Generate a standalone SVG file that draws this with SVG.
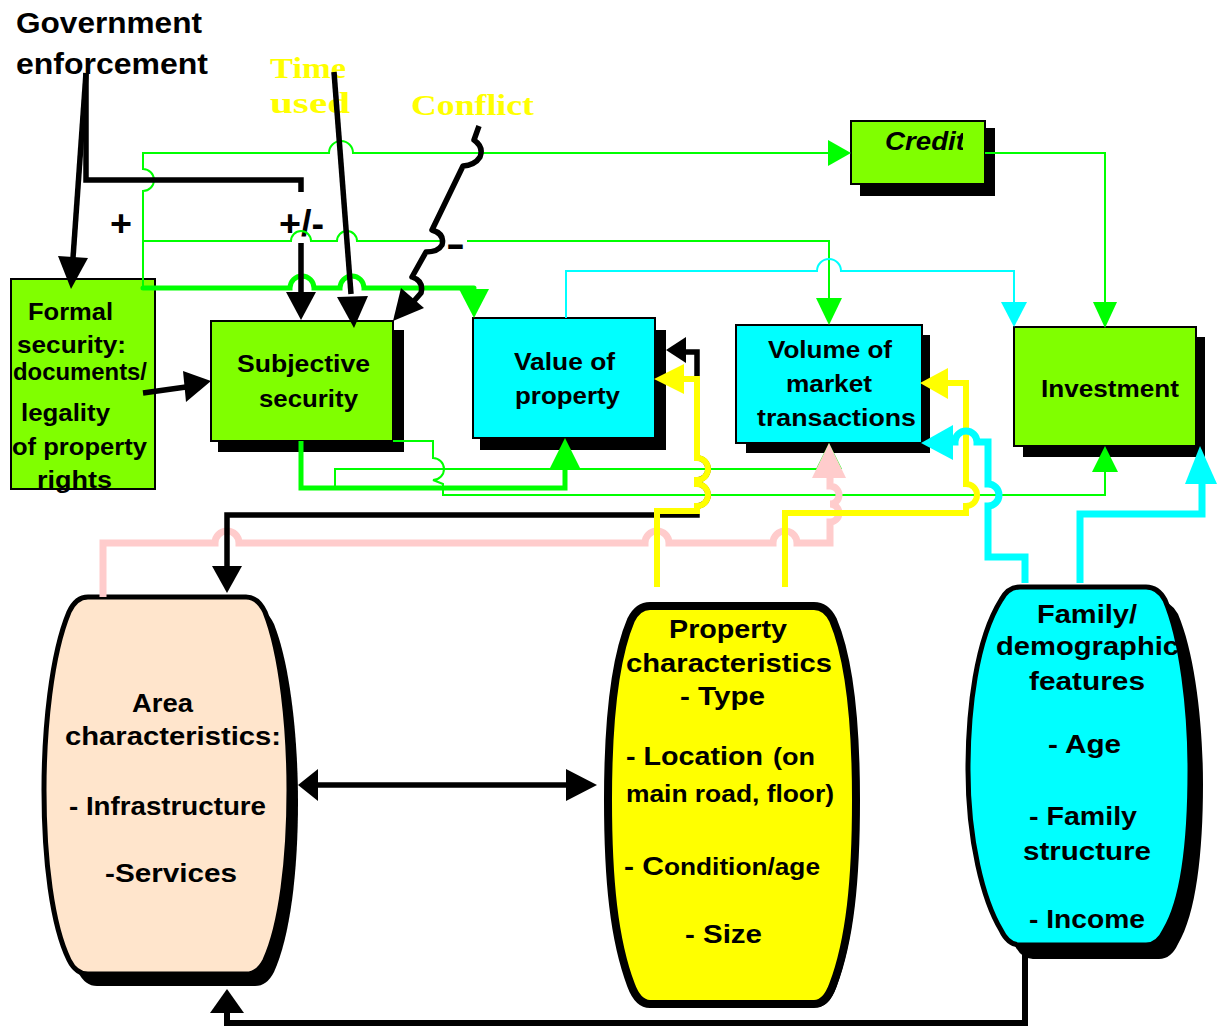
<svg xmlns="http://www.w3.org/2000/svg" width="1217" height="1028" viewBox="0 0 1217 1028">
<style>
.t{font-family:"Liberation Sans",Arial,sans-serif;font-weight:bold;fill:#000}
.ts{font-family:"Liberation Serif","Times New Roman",serif;font-weight:bold;fill:#FFFF00}
.bg{fill:#80FF00;stroke:#000;stroke-width:2}
.bc{fill:#00FFFF;stroke:#000;stroke-width:2}
.sh{fill:#000}
.gthin{stroke:#00FF00;stroke-width:2;fill:none}
.gthick{stroke:#00FF00;stroke-width:5;fill:none;stroke-linecap:round}
.cthin{stroke:#00FFFF;stroke-width:2;fill:none}
.cthick{stroke:#00FFFF;stroke-width:7;fill:none}
.blk{stroke:#000;stroke-width:5.5;fill:none}
.yl{stroke:#FFFF00;stroke-width:6;fill:none}
.pk{stroke:#FFCCCC;stroke-width:7;fill:none}
.ag{fill:#00FF00}.ac{fill:#00FFFF}.ak{fill:#000}.ay{fill:#FFFF00}.ap{fill:#FFCCCC}
</style>
<defs>
<clipPath id="clipCredit"><rect x="851" y="121" width="112" height="63"/></clipPath>
</defs>
<rect width="1217" height="1028" fill="#fff"/>

<g id="labels">
<text class="t" x="16" y="33" font-size="29" textLength="186" lengthAdjust="spacingAndGlyphs">Government</text>
<text class="t" x="16" y="74" font-size="29" textLength="192" lengthAdjust="spacingAndGlyphs">enforcement</text>
<text class="ts" x="270" y="78" font-size="30" textLength="76" lengthAdjust="spacingAndGlyphs">Time</text>
<text class="ts" x="270" y="113" font-size="30" textLength="80" lengthAdjust="spacingAndGlyphs">used</text>
<text class="ts" x="411" y="115" font-size="30" textLength="123" lengthAdjust="spacingAndGlyphs">Conflict</text>
<text class="t" x="110" y="236" font-size="36" textLength="22" lengthAdjust="spacingAndGlyphs">+</text>
<text class="t" x="279" y="236" font-size="36" textLength="45" lengthAdjust="spacingAndGlyphs">+/-</text>
<text class="t" x="446" y="256" font-size="36" textLength="19" lengthAdjust="spacingAndGlyphs">-</text>
</g>

<g id="node-formal">
<rect class="bg" x="11" y="279" width="144" height="210"/>
<text class="t" x="28" y="320" font-size="24" textLength="85" lengthAdjust="spacingAndGlyphs">Formal</text>
<text class="t" x="17" y="353" font-size="24" textLength="109" lengthAdjust="spacingAndGlyphs">security:</text>
<text class="t" x="13" y="380" font-size="24" textLength="134" lengthAdjust="spacingAndGlyphs">documents/</text>
<text class="t" x="21" y="421" font-size="24" textLength="89" lengthAdjust="spacingAndGlyphs">legality</text>
<text class="t" x="12" y="455" font-size="24" textLength="135" lengthAdjust="spacingAndGlyphs">of property</text>
<text class="t" x="37" y="488" font-size="24" textLength="75" lengthAdjust="spacingAndGlyphs">rights</text>
</g>

<g id="node-subjective">
<rect class="sh" x="218" y="330" width="186" height="122"/>
<rect class="bg" x="211" y="321" width="182" height="120"/>
<text class="t" x="237" y="372" font-size="24" textLength="133" lengthAdjust="spacingAndGlyphs">Subjective</text>
<text class="t" x="259" y="407" font-size="24" textLength="99" lengthAdjust="spacingAndGlyphs">security</text>
</g>

<g id="node-value">
<rect class="sh" x="480" y="330" width="186" height="120"/>
<rect class="bc" x="473" y="318" width="182" height="120"/>
<text class="t" x="514" y="370" font-size="24" textLength="101" lengthAdjust="spacingAndGlyphs">Value of</text>
<text class="t" x="515" y="404" font-size="24" textLength="105" lengthAdjust="spacingAndGlyphs">property</text>
</g>

<g id="node-volume">
<rect class="sh" x="746" y="335" width="184" height="118"/>
<rect class="bc" x="736" y="325" width="186" height="118"/>
<text class="t" x="768" y="358" font-size="24" textLength="124" lengthAdjust="spacingAndGlyphs">Volume of</text>
<text class="t" x="786" y="392" font-size="24" textLength="86" lengthAdjust="spacingAndGlyphs">market</text>
<text class="t" x="757" y="426" font-size="24" textLength="159" lengthAdjust="spacingAndGlyphs">transactions</text>
</g>

<g id="node-investment">
<rect class="sh" x="1023" y="337" width="182" height="120"/>
<rect class="bg" x="1014" y="327" width="182" height="119"/>
<text class="t" x="1041" y="397" font-size="24" textLength="138" lengthAdjust="spacingAndGlyphs">Investment</text>
</g>

<g id="node-credit">
<rect class="sh" x="860" y="128" width="135" height="68"/>
<rect class="bg" x="851" y="121" width="134" height="63"/>
<text class="t" x="885" y="150" font-size="25" font-style="italic" textLength="80" lengthAdjust="spacingAndGlyphs" clip-path="url(#clipCredit)">Credit</text>
</g>

<g id="node-area">
<path class="sh" transform="translate(9,12)" d="M88,597 L246,597 Q258,597 265,612 C282,655 289,730 289,790 C289,860 281,925 265,960 Q258,974 246,974 L88,974 Q76,974 69,960 C52,925 44,860 44,790 C44,730 51,655 69,612 Q76,597 88,597 Z"/>
<path fill="#FFE5CC" stroke="#000" stroke-width="5" d="M88,597 L246,597 Q258,597 265,612 C282,655 289,730 289,790 C289,860 281,925 265,960 Q258,974 246,974 L88,974 Q76,974 69,960 C52,925 44,860 44,790 C44,730 51,655 69,612 Q76,597 88,597 Z"/>
<text class="t" x="132" y="712" font-size="26" textLength="61" lengthAdjust="spacingAndGlyphs">Area</text>
<text class="t" x="65" y="745" font-size="26" textLength="216" lengthAdjust="spacingAndGlyphs">characteristics:</text>
<text class="t" x="69" y="815" font-size="26" textLength="197" lengthAdjust="spacingAndGlyphs">- Infrastructure</text>
<text class="t" x="105" y="882" font-size="26" textLength="132" lengthAdjust="spacingAndGlyphs">-Services</text>
</g>

<g id="node-property">
<path class="sh" transform="translate(3,3)" d="M650,606 L814,606 Q826,606 833,620 C850,660 856,730 856,800 C856,880 850,940 833,985 Q826,1004 814,1004 L650,1004 Q638,1004 631,985 C614,940 608,880 608,800 C608,730 614,660 631,620 Q638,606 650,606 Z"/>
<path fill="#FFFF00" stroke="#000" stroke-width="8" d="M650,606 L814,606 Q826,606 833,620 C850,660 856,730 856,800 C856,880 850,940 833,985 Q826,1004 814,1004 L650,1004 Q638,1004 631,985 C614,940 608,880 608,800 C608,730 614,660 631,620 Q638,606 650,606 Z"/>
<text class="t" x="669" y="638" font-size="26" textLength="118" lengthAdjust="spacingAndGlyphs">Property</text>
<text class="t" x="626" y="672" font-size="26" textLength="206" lengthAdjust="spacingAndGlyphs">characteristics</text>
<text class="t" x="680" y="705" font-size="26" textLength="85" lengthAdjust="spacingAndGlyphs">- Type</text>
<text class="t" y="765" font-size="26"><tspan x="626" textLength="137" lengthAdjust="spacingAndGlyphs">- Location</tspan><tspan x="773" font-size="23" textLength="42" lengthAdjust="spacingAndGlyphs">(on</tspan></text>
<text class="t" x="626" y="802" font-size="23" textLength="208" lengthAdjust="spacingAndGlyphs">main road, floor)</text>
<text class="t" y="875" font-size="26"><tspan x="624" textLength="40" lengthAdjust="spacingAndGlyphs">- C</tspan><tspan x="664" font-size="23" textLength="156" lengthAdjust="spacingAndGlyphs">ondition/age</tspan></text>
<text class="t" x="685" y="943" font-size="26" textLength="77" lengthAdjust="spacingAndGlyphs">- Size</text>
</g>

<g id="node-family">
<path class="sh" transform="translate(13,14)" d="M1020,587 L1146,587 Q1158,587 1165,600 C1182,640 1190,710 1190,770 C1190,840 1183,900 1165,930 Q1158,945 1146,945 L1020,945 Q1008,945 1001,930 C983,900 968,840 968,770 C968,710 976,640 1001,600 Q1008,587 1020,587 Z"/>
<path fill="#00FFFF" stroke="#000" stroke-width="5" d="M1020,587 L1146,587 Q1158,587 1165,600 C1182,640 1190,710 1190,770 C1190,840 1183,900 1165,930 Q1158,945 1146,945 L1020,945 Q1008,945 1001,930 C983,900 968,840 968,770 C968,710 976,640 1001,600 Q1008,587 1020,587 Z"/>
<text class="t" x="1037" y="623" font-size="26" textLength="100" lengthAdjust="spacingAndGlyphs">Family/</text>
<text class="t" x="996" y="655" font-size="26" textLength="183" lengthAdjust="spacingAndGlyphs">demographic</text>
<text class="t" x="1029" y="690" font-size="26" textLength="116" lengthAdjust="spacingAndGlyphs">features</text>
<text class="t" x="1048" y="753" font-size="26" textLength="73" lengthAdjust="spacingAndGlyphs">- Age</text>
<text class="t" x="1029" y="825" font-size="26" textLength="108" lengthAdjust="spacingAndGlyphs">- Family</text>
<text class="t" x="1023" y="860" font-size="26" textLength="128" lengthAdjust="spacingAndGlyphs">structure</text>
<text class="t" x="1029" y="928" font-size="26" textLength="116" lengthAdjust="spacingAndGlyphs">- Income</text>
</g>

<g id="connectors">
<path class="gthin" d="M143,288 V191 A11,11 0 0 0 143,169 V153 H329 A12,12 0 0 1 353,153 H829"/>
<polygon class="ag" points="851,153 828,140 828,166"/>
<path class="gthin" d="M143,241 H291 A10,10 0 0 1 311,241 H337 A10,10 0 0 1 357,241 H445 M467,241 H829 V299"/>
<polygon class="ag" points="829,325 816,298 842,298"/>
<path class="gthick" d="M143,288 H290 A12,12 0 0 1 314,288 H340 A12,12 0 0 1 364,288 H474"/>
<polygon class="ag" points="474,318 459,289 489,289"/>
<path class="gthick" style="stroke-linecap:butt" d="M301,441 V488 H565 V468"/>
<polygon class="ag" points="565,438 550,468 580,468"/>
<path class="gthin" d="M335,488 V469 H829"/>
<polygon class="ag" points="829,443 816,469 842,469"/>
<path class="gthin" d="M393,441 H433 V458 A11,11 0 0 1 433,480 L443,484 V495 H1105 V472"/>
<polygon class="ag" points="1105,446 1092,472 1118,472"/>
<path class="gthin" d="M985,153 H1105 V303"/>
<polygon class="ag" points="1105,328 1093,302 1117,302"/>
<path class="cthin" d="M566,318 V271 H817 A12,12 0 0 1 841,271 H1014 V303"/>
<polygon class="ac" points="1014,327 1001,302 1027,302"/>
<path class="pk" d="M103,597 V543 H215 A12,12 0 0 1 239,543 H645 A12,12 0 0 1 669,543 H773 A12,12 0 0 1 797,543 H830 V522 A9,9 0 0 0 830,504 A9,9 0 0 0 830,486 V476"/>
<polygon class="ap" points="829,443 812,478 846,478"/>
<path class="blk" d="M86,73 L73,258"/>
<polygon class="ak" points="71,289 58,256 88,258"/>
<path class="blk" d="M86,73 V180 H301 V192 M301,243 V294"/>
<polygon class="ak" points="301,320 286,292 316,292"/>
<path class="blk" d="M334,72 L351,294"/>
<polygon class="ak" points="354,328 337,297 368,296"/>
<path class="blk" stroke-linejoin="round" d="M479,126 L474,140 Q484,147 480,157 Q475,165 463,166 L432,230 Q445,234 442,245 Q438,252 426,252 L412,277 Q424,281 421,293 L414,301"/>
<polygon class="ak" points="393,321 401,288 424,308"/>
<path class="blk" d="M143,393 L186,387"/>
<polygon class="ak" points="211,381 183,371 186,402"/>
<path class="blk" d="M227,567 V515 H697 V506 A11,11 0 0 0 697,484 V480 A11,11 0 0 0 697,458 V352 H686"/>
<polygon class="ak" points="666,350 686,337 686,363"/>
<polygon class="ak" points="227,593 212,566 242,566"/>
<path class="blk" d="M316,785 H568"/>
<polygon class="ak" points="298,785 318,769 318,801"/>
<polygon class="ak" points="597,785 566,769 566,801"/>
<path class="blk" style="stroke-width:6" d="M1025,945 V1023 H227 V1012"/>
<polygon class="ak" points="227,989 210,1013 244,1013"/>
<path class="yl" d="M657,587 V511 H697 V506 A11,11 0 0 0 697,484 V480 A11,11 0 0 0 697,458 V379 H683"/>
<polygon class="ay" points="654,379 684,364 684,394"/>
<path class="yl" d="M785,587 V513 H966 V506 A11,11 0 0 0 966,484 V383 H946"/>
<polygon class="ay" points="920,383 948,368 948,399"/>
<path class="cthick" d="M1025,583 V557 H988 V506 A11,11 0 0 0 988,484 V442 H977 A11,11 0 0 0 955,442 H950"/>
<polygon class="ac" points="921,443 953,425 953,460"/>
<path class="cthick" d="M1080,583 V514 H1202 V482"/>
<polygon class="ac" points="1200,446 1185,484 1217,484"/>
</g>
</svg>
